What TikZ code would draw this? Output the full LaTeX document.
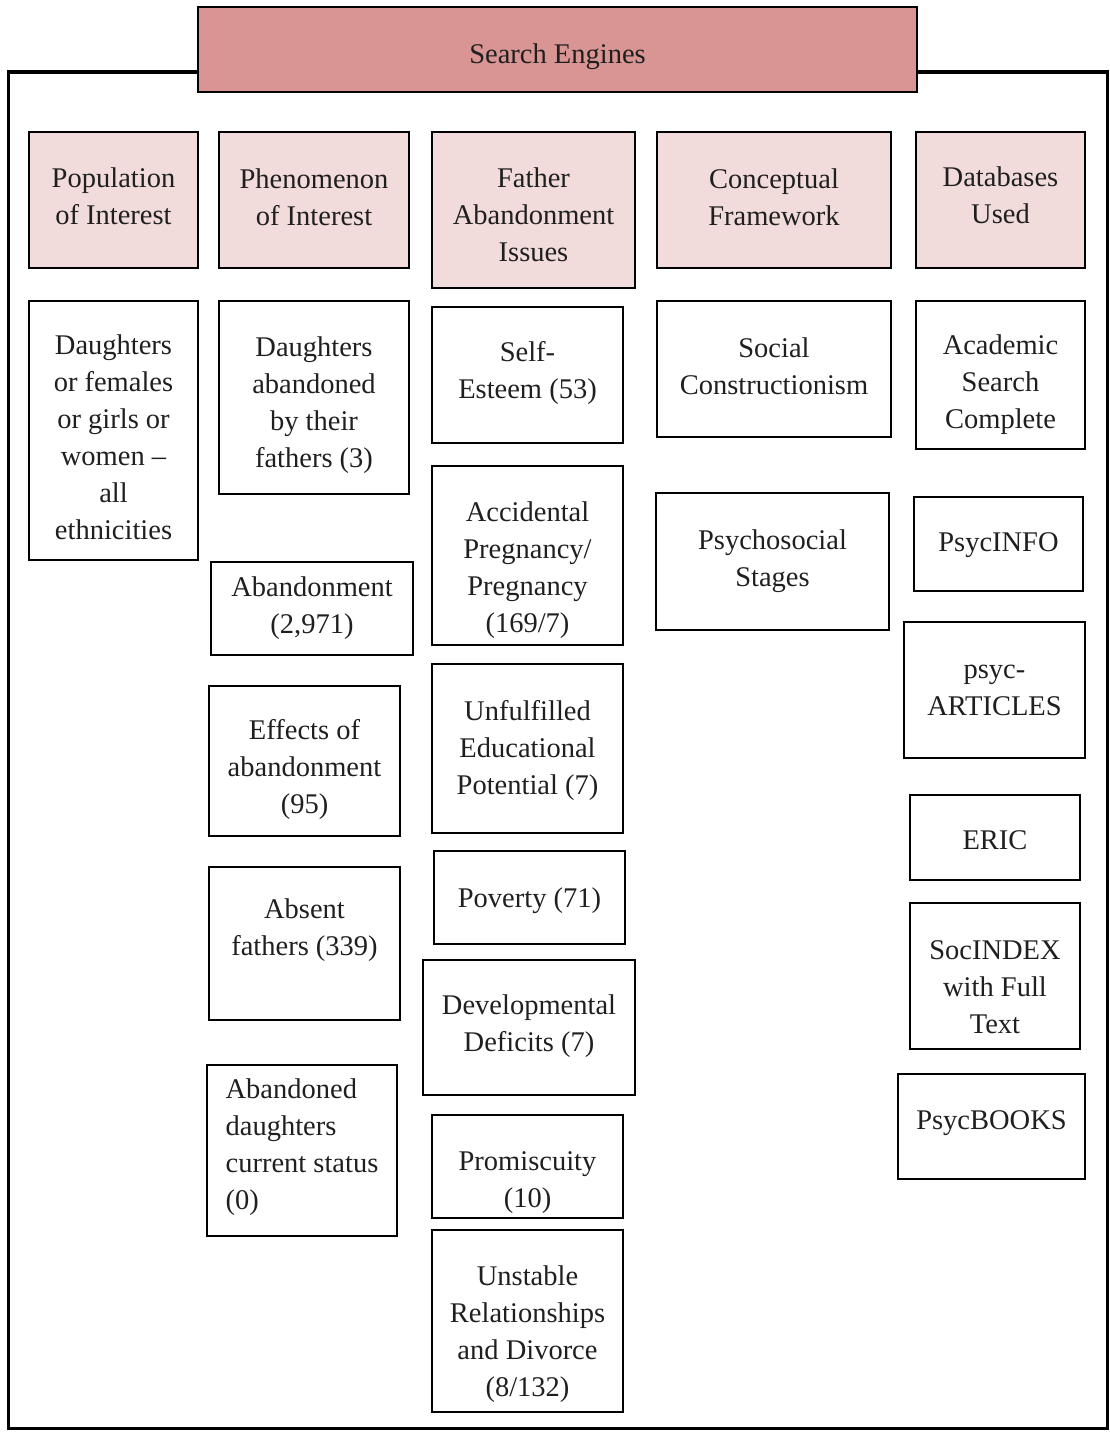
\documentclass[tikz,border=0pt]{standalone}
\usepackage{fontspec}
\setmainfont{Liberation Serif}
\definecolor{titlepink}{HTML}{D99594}
\definecolor{headpink}{HTML}{F2DCDB}
\newcommand\bx[8][]{%
  \node[box,#1,minimum width={(#5-#3)*1pt},minimum height={(#6-#4)*1pt}] (#2) at ({(#3+#5)/2},{(#4+#6)/2}) {};
  \node[txt,#1] (#2-t) at ([yshift={-(#7)*1pt}]#2.center) {#8};}
\begin{document}
\begin{tikzpicture}[x=1pt,y=-1pt,
  box/.style={draw=black,line width=1.8pt,rectangle,inner sep=0pt,outer sep=0pt},
  txt/.style={inner sep=0pt,align=center,font=\fontsize{28.5}{37}\selectfont,text=black!88,fill=none,draw=none},
  head/.style={fill=headpink},
  titlebox/.style={fill=titlepink}]
\useasboundingbox (0,0) rectangle (1110,1437);
\draw[line width=3pt] (8,72) rectangle (1107,1428);
\bx[titlebox]{title}{198}{7}{917}{92}{7}{Search Engines}
% headers
\bx[head]{h1}{29}{132}{198}{268}{-4}{Population\\of Interest}
\bx[head]{h2}{219}{132}{409}{268}{-3}{Phenomenon\\of Interest}
\bx[head]{h3}{432}{132}{635}{288}{5}{Father\\Abandonment\\Issues}
\bx[head]{h4}{657}{132}{891}{268}{-3}{Conceptual\\Framework}
\bx[head]{h5}{916}{132}{1085}{268}{-5}{Databases\\Used}
% column 1
\bx{p1}{29}{301}{198}{560}{7}{Daughters\\or females\\or girls or\\women –\\all\\ethnicities}
% column 2
\bx{f1}{219}{301}{409}{494}{8}{Daughters\\abandoned\\by their\\fathers (3)}
\bx{f2}{211}{562}{413}{655}{0}{Abandonment\\(2,971)}
\bx{f3}{209}{686}{400}{836}{8}{Effects of\\abandonment\\(95)}
\bx{f4}{209}{867}{400}{1020}{-13}{Absent\\fathers (339)}
\bx[align=left]{f5}{207}{1065}{397}{1236}{-3}{Abandoned\\daughters\\current status\\(0)}
% column 3
\bx{a1}{432}{307}{623}{443}{-2}{Self-\\Esteem (53)}
\bx{a2}{432}{466}{623}{645}{15}{Accidental\\Pregnancy/\\Pregnancy\\(169/7)}
\bx{a3}{432}{664}{623}{833}{2}{Unfulfilled\\Educational\\Potential (7)}
\bx{a4}{434}{851}{625}{944}{3}{Poverty (71)}
\bx{a5}{423}{960}{635}{1095}{-1}{Developmental\\Deficits (7)}
\bx{a6}{432}{1115}{623}{1218}{16}{Promiscuity\\(10)}
\bx{a7}{432}{1230}{623}{1412}{13}{Unstable\\Relationships\\and Divorce\\(8/132)}
% column 4
\bx{c1}{657}{301}{891}{437}{-3}{Social\\Constructionism}
\bx{c2}{656}{493}{889}{630}{0}{Psychosocial\\Stages}
% column 5
\bx{d1}{916}{301}{1085}{449}{10}{Academic\\Search\\Complete}
\bx{d2}{914}{497}{1083}{591}{1}{PsycINFO}
\bx{d3}{904}{622}{1085}{758}{0}{psyc-\\ARTICLES}
\bx{d4}{910}{795}{1080}{880}{3}{ERIC}
\bx{d5}{910}{903}{1080}{1049}{11}{SocINDEX\\with Full\\Text}
\bx{d6}{898}{1074}{1085}{1179}{-3}{PsycBOOKS}
\end{tikzpicture}
\end{document}
